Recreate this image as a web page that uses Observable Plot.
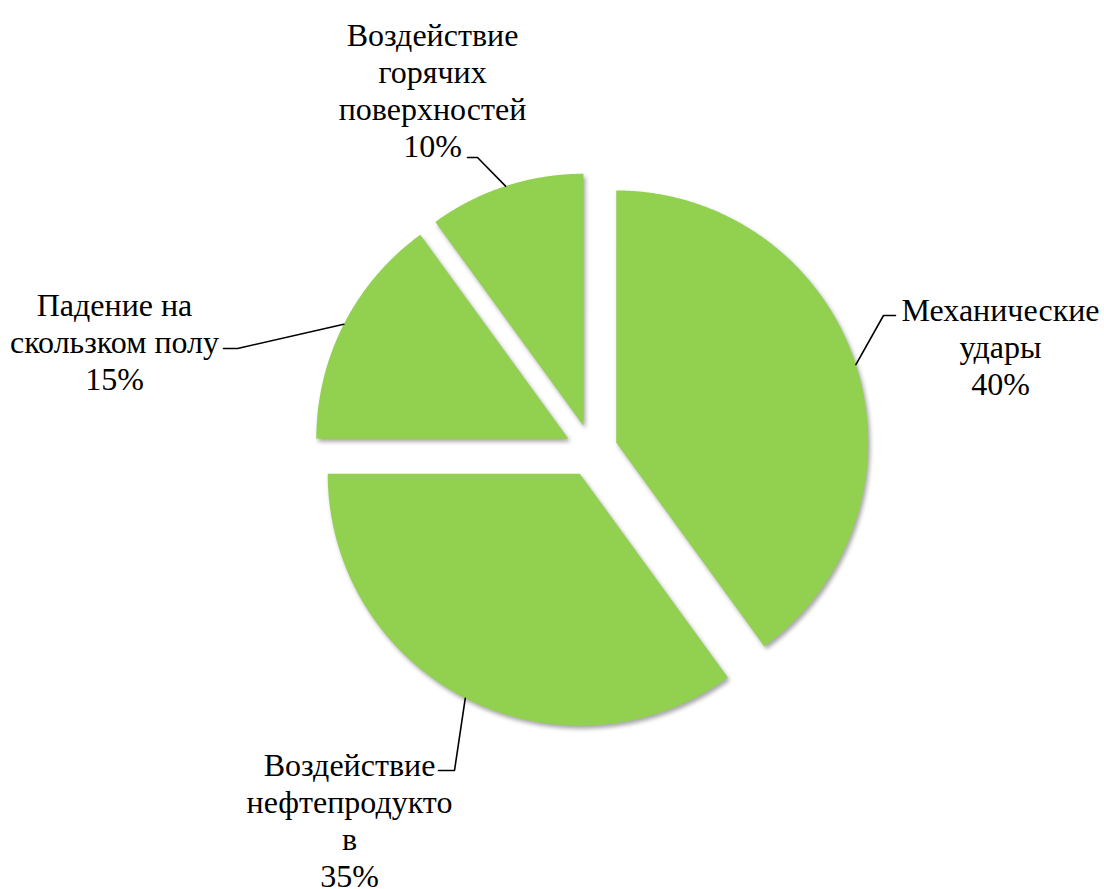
<!DOCTYPE html>
<html><head><meta charset="utf-8">
<script src="https://cdn.jsdelivr.net/npm/d3@7"></script>
<script src="https://cdn.jsdelivr.net/npm/@observablehq/plot@0.6"></script>
<style>html,body{margin:0;padding:0;background:#fff;} #chart svg{display:block;}</style>
</head><body><div id="chart"></div>
<script>
// ---- data ----
const categories = ["Механические удары", "Воздействие нефтепродуктов", "Падение на скользком полу", "Воздействие горячих поверхностей"];
const values = [40, 35, 15, 10];
const labelLines = [["Механические", "удары"], ["Воздействие", "нефтепродукто", "в"], ["Падение на", "скользком полу"], ["Воздействие", "горячих", "поверхностей"]];
const percentLabels = ["40%", "35%", "15%", "10%"];

// ---- layout ----
const W = 1104, H = 889;
const CX = 591, CY = 450, R = 252, EXPLODE = 26;
const FS = 32, LH = 37;
const FONT = "Liberation Serif, Tinos, Times New Roman, DejaVu Serif, serif";
const labelLayout = [
  {x: 1000, y: 317, elbow: [883, 315], end: [895, 315]},
  {x: 349, y: 772, elbow: [454, 770], end: [438, 770]},
  {x: 114, y: 312, elbow: [237, 348], end: [223, 348]},
  {x: 432, y: 42, elbow: [477, 157], end: [467, 157]}
];

const pie = d3.pie().sort(null).value(d => d)(values);
const slices = [], leaders = [], labels = [];
pie.forEach((p, i) => {
  const m = (p.startAngle + p.endAngle) / 2;
  const ox = CX + EXPLODE * Math.sin(m), oy = CY - EXPLODE * Math.cos(m);
  slices.push({k: i, x: ox, y: oy});
  const n = Math.max(2, Math.ceil((p.endAngle - p.startAngle) / 0.005));
  for (let j = 0; j <= n; j++) {
    const a = p.startAngle + (p.endAngle - p.startAngle) * j / n;
    slices.push({k: i, x: ox + R * Math.sin(a), y: oy - R * Math.cos(a)});
  }
  slices.push({k: i, x: ox, y: oy});
  const L = labelLayout[i];
  leaders.push({k: i, x: ox + R * Math.sin(m), y: oy - R * Math.cos(m)},
               {k: i, x: L.elbow[0], y: L.elbow[1]},
               {k: i, x: L.end[0], y: L.end[1]});
  labels.push({x: L.x, y: L.y - 0.71 * FS, text: [...labelLines[i], percentLabels[i]].join("\n"), name: categories[i]});
});

const chart = Plot.plot({
  width: W, height: H, margin: 0,
  x: {domain: [0, W], range: [0, W], axis: null},
  y: {domain: [0, H], range: [0, H], axis: null},
  marks: [
    Plot.line(slices, {x: "x", y: "y", z: "k", fill: "#92D050", stroke: "none", curve: "linear"}),
    Plot.line(leaders, {x: "x", y: "y", z: "k", stroke: "#000", strokeWidth: 1.6, curve: "linear"}),
    Plot.text(labels, {x: "x", y: "y", text: "text", lineAnchor: "top", lineHeight: LH / FS, fontSize: FS, fontFamily: FONT, fill: "#000", textAnchor: "middle"})
  ]
});
d3.select(chart).attr("font-family", FONT);
d3.select(chart).select('g[aria-label="line"]').style("filter", "drop-shadow(2px 3px 2px rgba(0,0,0,0.35))");
d3.select(chart).selectAll("text, tspan").attr("font-family", FONT);
document.getElementById("chart").appendChild(chart);
</script>
</body></html>
